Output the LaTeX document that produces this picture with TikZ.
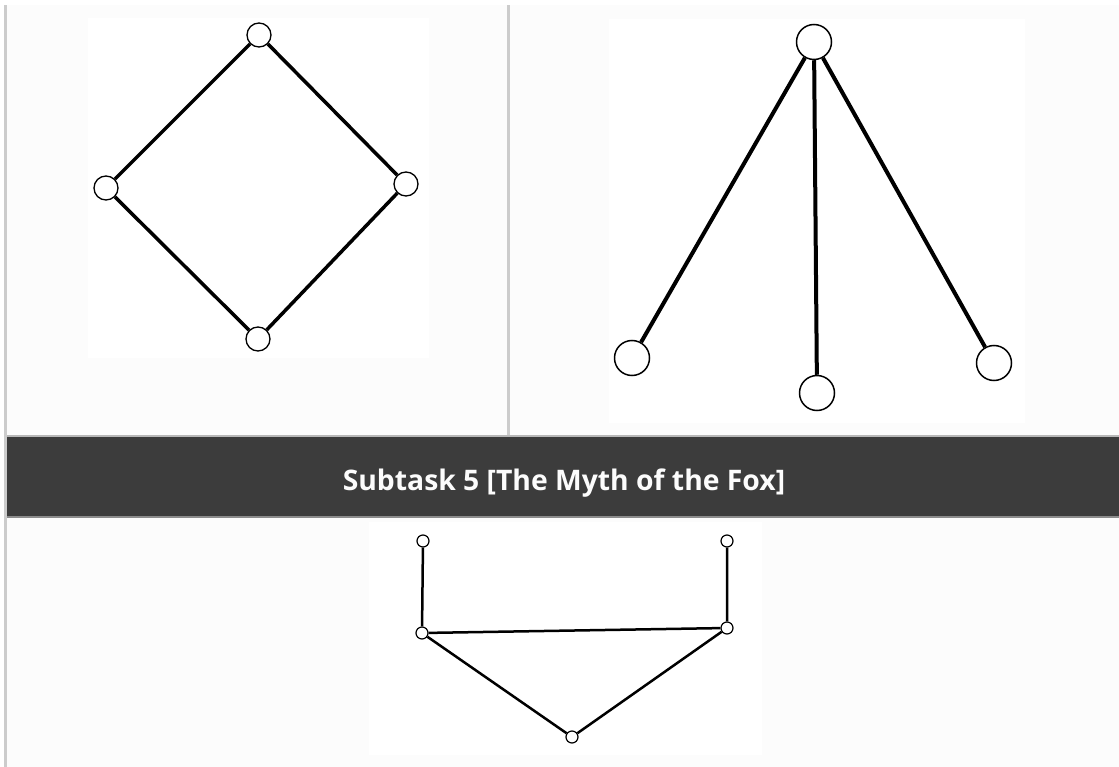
\documentclass[tikz,border=0pt]{standalone}
\usepackage{fontspec}
\newfontfamily\cabecera{Open Sans}
\definecolor{fondo}{RGB}{252,252,252}
\definecolor{borde}{RGB}{204,204,204}
\definecolor{barra}{RGB}{60,60,60}
\definecolor{filo}{RGB}{140,140,140}

\begin{document}
\begin{tikzpicture}[x=1pt, y=-1pt, line width=0.7pt,
  nodo/.style={circle, draw, fill=white, inner sep=0pt},
  grande/.style={nodo, minimum size=24pt, line width=1.3pt},
  enorme/.style={nodo, minimum size=35pt, line width=1.5pt},
  chico/.style={nodo, minimum size=12pt, line width=1.2pt}]
  \useasboundingbox[fill=white] (0,0) rectangle (1119,767);
  % tabla
  \fill[fondo] (7,5) rectangle (1119,435);
  \fill[fondo] (7,518) rectangle (1119,767);
  \fill[borde] (4,5) rectangle (7,767);
  \fill[borde] (507,5) rectangle (510,435);
  \fill[borde!90!black] (7,435) rectangle (1119,437);
  \fill[barra] (7,437) rectangle (1119,516);
  \fill[filo] (7,516) rectangle (1119,518);
  \node[anchor=base, text=fondo, font=\cabecera\bfseries\fontsize{28.3}{34}\selectfont]
    (titulo) at (564,490) {Subtask 5 [The Myth of the Fox]};
  % fondos blancos de las figuras
  \fill[white] (88,18) rectangle (429,358);
  \fill[white] (609,19) rectangle (1025,423);
  \fill[white] (369,522) rectangle (762,755);

  % rombo
  \node[grande] (r1) at (259,35) {};
  \node[grande] (r2) at (106,188) {};
  \node[grande] (r3) at (406,184) {};
  \node[grande] (r4) at (258,339) {};
  \draw[line width=3.5pt] (r1) -- (r2) -- (r4) -- (r3) -- (r1);

  % estrella
  \node[enorme] (e0) at (814,42) {};
  \node[enorme] (e1) at (632,358) {};
  \node[enorme] (e2) at (817,393) {};
  \node[enorme] (e3) at (994,363) {};
  \foreach \h in {e1,e2,e3}
    \draw[line width=4pt] (e0) -- (\h);

  % zorro
  \node[chico] (z1) at (423,541) {};
  \node[chico] (z2) at (727,541) {};
  \node[chico] (z3) at (422,633) {};
  \node[chico] (z4) at (727,628) {};
  \node[chico] (z5) at (572,737) {};
  \draw[line width=2.5pt] (z1) -- (z3) -- (z4) -- (z2);
  \draw[line width=2.5pt] (z3) -- (z5) -- (z4);
\end{tikzpicture}
\end{document}
